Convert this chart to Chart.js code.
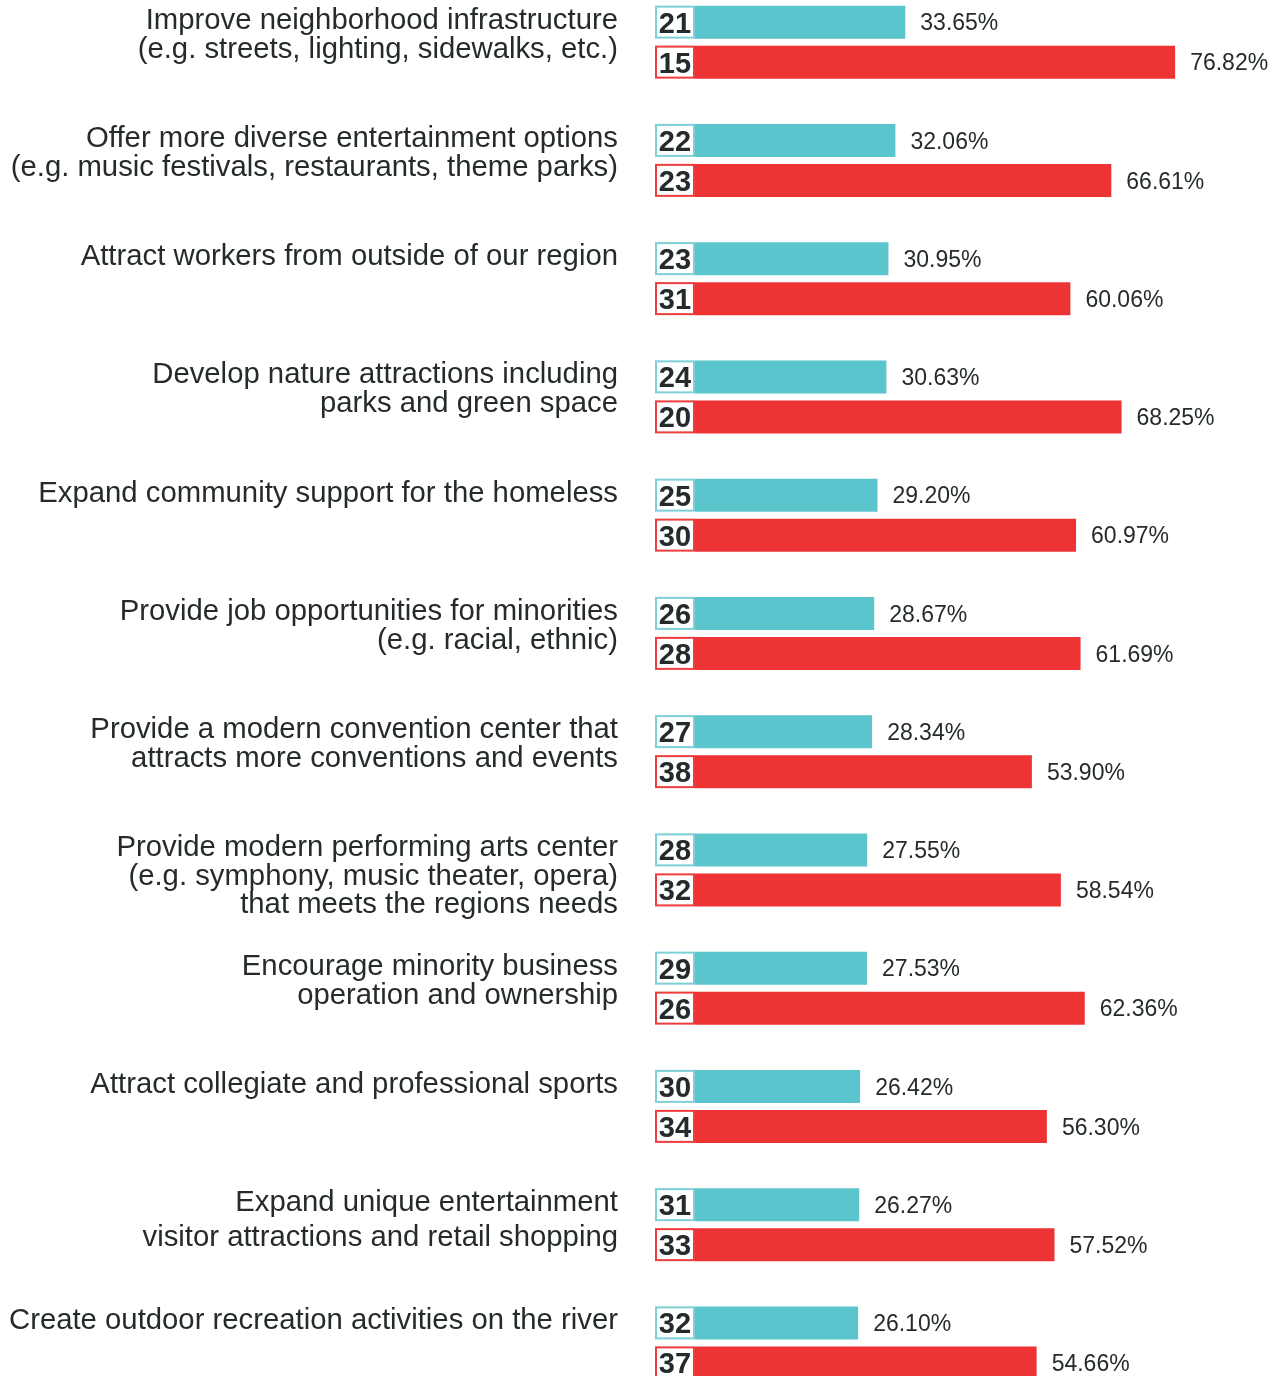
<!DOCTYPE html>
<html>
<head>
<meta charset="utf-8">
<script src="https://cdn.jsdelivr.net/npm/chart.js@4/dist/chart.umd.min.js"></script>
<style>
html,body{margin:0;padding:0;background:#fff;overflow:hidden;}
#wrap{position:relative;width:1281px;height:1376px;overflow:hidden;}
#c{display:block;position:absolute;left:0;top:-17px;}
</style>
</head>
<body>
<div id="wrap"><canvas id="c" width="1281" height="1419"></canvas></div>
<script>
// ---- data ----
const categories = [
  ["Improve neighborhood infrastructure", "(e.g. streets, lighting, sidewalks, etc.)"],
  ["Offer more diverse entertainment options", "(e.g. music festivals, restaurants, theme parks)"],
  ["Attract workers from outside of our region"],
  ["Develop nature attractions including", "parks and green space"],
  ["Expand community support for the homeless"],
  ["Provide job opportunities for minorities", "(e.g. racial, ethnic)"],
  ["Provide a modern convention center that", "attracts more conventions and events"],
  ["Provide modern performing arts center", "(e.g. symphony, music theater, opera)", "that meets the regions needs"],
  ["Encourage minority business", "operation and ownership"],
  ["Attract collegiate and professional sports"],
  ["Expand unique entertainment", "visitor attractions and retail shopping"],
  ["Create outdoor recreation activities on the river"]
];
const tealValues = [33.65, 32.06, 30.95, 30.63, 29.20, 28.67, 28.34, 27.55, 27.53, 26.42, 26.27, 26.10];
const tealRanks  = [21, 22, 23, 24, 25, 26, 27, 28, 29, 30, 31, 32];
const redValues  = [76.82, 66.61, 60.06, 68.25, 60.97, 61.69, 53.90, 58.54, 62.36, 56.30, 57.52, 54.66];
const redRanks   = [15, 23, 31, 20, 30, 28, 38, 32, 26, 34, 33, 37];

// ---- style ----
const TEAL = '#5BC5CD', RED = '#EE3334';
const TEAL_BORDER = '#7FD0D6', RED_BORDER = '#EE3D3E';
const TEXT = '#252B2B';
const FONT = '"Liberation Sans", Arial, Helvetica, sans-serif';
const labelLineGap = [29, 29, 29, 29, 29, 29, 29, 28.5, 29, 29, 35, 29];

const overlay = {
  id: 'overlay',
  afterDatasetsDraw(chart) {
    const ctx = chart.ctx;
    const ranks = [tealRanks, redRanks];
    const borders = [TEAL_BORDER, RED_BORDER];
    ctx.save();
    chart.data.datasets.forEach((ds, di) => {
      const meta = chart.getDatasetMeta(di);
      meta.data.forEach((bar, i) => {
        const h = bar.height;
        const top = bar.y - h / 2;
        const left = bar.base - 40;
        // rank box
        ctx.fillStyle = '#fff';
        ctx.fillRect(left, top, 40, h);
        ctx.strokeStyle = borders[di];
        ctx.lineWidth = 2;
        ctx.strokeRect(left + 1, top + 1, 38, h - 2);
        ctx.fillStyle = TEXT;
        ctx.font = 'bold 29px ' + FONT;
        ctx.textAlign = 'center';
        ctx.textBaseline = 'alphabetic';
        ctx.fillText(String(ranks[di][i]), left + 20, bar.y + 10.5);
        // value label
        ctx.font = '23px ' + FONT;
        ctx.textAlign = 'left';
        ctx.fillText(ds.data[i].toFixed(2) + '%', bar.x + 15, bar.y + 8.3);
      });
    });
    // category labels aligned to the teal bar
    const tealMeta = chart.getDatasetMeta(0);
    ctx.font = '29.3px ' + FONT;
    ctx.textAlign = 'right';
    ctx.fillStyle = TEXT;
    tealMeta.data.forEach((bar, i) => {
      const lines = chart.data.labels[i];
      lines.forEach((line, k) => {
        ctx.fillText(line, 618, bar.y + 6.5 + k * labelLineGap[i]);
      });
    });
    ctx.restore();
  }
};

new Chart(document.getElementById('c'), {
  type: 'bar',
  data: {
    labels: categories,
    datasets: [
      { label: 'Teal', data: tealValues, backgroundColor: TEAL, borderWidth: 0 },
      { label: 'Red', data: redValues, backgroundColor: RED, borderWidth: 0 }
    ]
  },
  options: {
    indexAxis: 'y',
    responsive: false,
    devicePixelRatio: 1,
    animation: false,
    events: [],
    categoryPercentage: 80 / 118.25,
    barPercentage: 33 / 40,
    layout: { padding: { left: 695, right: 23.5, top: 0, bottom: 0 } },
    plugins: { legend: { display: false }, tooltip: { enabled: false } },
    scales: {
      x: { display: false, min: 0, max: 90 },
      y: { display: false, offset: true, grid: { display: false } }
    }
  },
  plugins: [overlay]
});
</script>
</body>
</html>
